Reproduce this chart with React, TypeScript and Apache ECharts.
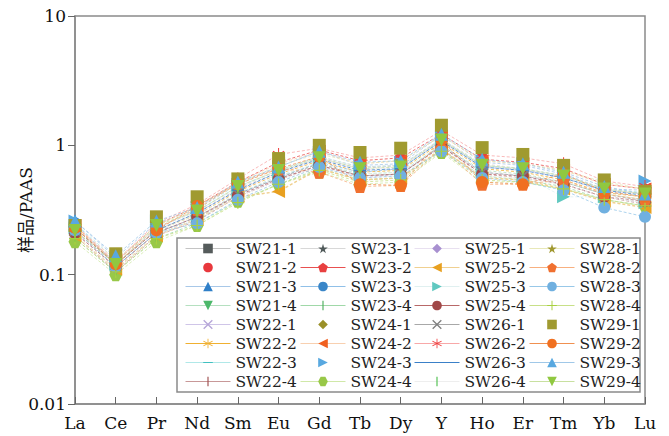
import React, { useEffect, useRef } from "react";
import * as echarts from "echarts";

const elements = ["La", "Ce", "Pr", "Nd", "Sm", "Eu", "Gd", "Tb", "Dy", "Y", "Ho", "Er", "Tm", "Yb", "Lu"];
const yTickLabels = ["0.01", "0.1", "1", "10"];

const SW21_1 = [0.22, 0.12, 0.22, 0.30, 0.46, 0.62, 0.80, 0.66, 0.70, 1.10, 0.70, 0.65, 0.56, 0.45, 0.42];
const SW21_2 = [0.24, 0.125, 0.24, 0.33, 0.50, 0.72, 0.88, 0.74, 0.78, 1.18, 0.80, 0.72, 0.62, 0.48, 0.44];
const SW21_3 = [0.26, 0.135, 0.25, 0.32, 0.50, 0.68, 0.90, 0.70, 0.72, 1.20, 0.74, 0.70, 0.60, 0.46, 0.45];
const SW21_4 = [0.20, 0.11, 0.20, 0.27, 0.42, 0.58, 0.72, 0.60, 0.62, 1.00, 0.64, 0.60, 0.52, 0.42, 0.38];
const SW22_1 = [0.21, 0.115, 0.21, 0.28, 0.40, 0.55, 0.70, 0.56, 0.60, 0.98, 0.62, 0.58, 0.50, 0.40, 0.36];
const SW22_2 = [0.23, 0.12, 0.22, 0.29, 0.44, 0.60, 0.76, 0.62, 0.64, 1.05, 0.66, 0.62, 0.54, 0.43, 0.40];
const SW22_3 = [0.25, 0.13, 0.23, 0.31, 0.48, 0.64, 0.82, 0.68, 0.70, 1.12, 0.70, 0.66, 0.58, 0.46, 0.43];
const SW22_4 = [0.20, 0.105, 0.20, 0.26, 0.40, 0.54, 0.70, 0.58, 0.60, 0.98, 0.60, 0.56, 0.50, 0.40, 0.35];
const SW23_1 = [0.22, 0.12, 0.23, 0.31, 0.47, 0.64, 0.82, 0.68, 0.70, 1.12, 0.72, 0.66, 0.58, 0.46, 0.42];
const SW23_2 = [0.23, 0.125, 0.24, 0.34, 0.52, 0.74, 0.92, 0.76, 0.80, 1.22, 0.78, 0.74, 0.66, 0.50, 0.46];
const SW23_3 = [0.25, 0.12, 0.22, 0.26, 0.42, 0.56, 0.74, 0.62, 0.66, 1.08, 0.68, 0.64, 0.56, 0.44, 0.40];
const SW23_4 = [0.19, 0.105, 0.19, 0.25, 0.37, 0.50, 0.66, 0.54, 0.56, 0.92, 0.58, 0.54, 0.48, 0.38, 0.34];
const SW24_1 = [0.21, 0.115, 0.21, 0.28, 0.42, 0.56, 0.70, 0.56, 0.58, 0.95, 0.58, 0.56, 0.50, 0.40, 0.36];
const SW24_2 = [0.24, 0.13, 0.24, 0.34, 0.52, 0.72, 0.90, 0.72, 0.76, 1.18, 0.76, 0.72, 0.64, 0.50, 0.46];
const SW24_3 = [0.26, 0.135, 0.26, 0.33, 0.50, 0.68, 0.88, 0.70, 0.74, 1.16, 0.76, 0.72, 0.64, 0.50, 0.53];
const SW24_4 = [0.18, 0.10, 0.18, 0.24, 0.37, 0.50, 0.62, 0.50, 0.52, 0.88, 0.52, 0.52, 0.46, 0.38, 0.34];
const SW25_1 = [0.22, 0.12, 0.22, 0.30, 0.45, 0.60, 0.78, 0.64, 0.68, 1.08, 0.68, 0.64, 0.56, 0.44, 0.40];
const SW25_2 = [0.20, 0.11, 0.20, 0.27, 0.40, 0.44, 0.66, 0.54, 0.56, 0.94, 0.56, 0.54, 0.46, 0.37, 0.33];
const SW25_3 = [0.23, 0.12, 0.22, 0.29, 0.43, 0.58, 0.74, 0.60, 0.62, 1.02, 0.62, 0.58, 0.40, 0.40, 0.36];
const SW25_4 = [0.21, 0.115, 0.21, 0.28, 0.41, 0.55, 0.70, 0.58, 0.60, 0.98, 0.60, 0.58, 0.50, 0.40, 0.37];
const SW26_1 = [0.22, 0.115, 0.21, 0.28, 0.42, 0.56, 0.72, 0.58, 0.60, 1.00, 0.62, 0.58, 0.52, 0.42, 0.37];
const SW26_2 = [0.24, 0.125, 0.25, 0.35, 0.55, 0.85, 0.95, 0.80, 0.84, 1.30, 0.84, 0.80, 0.72, 0.53, 0.48];
const SW26_3 = [0.23, 0.12, 0.22, 0.30, 0.45, 0.62, 0.78, 0.64, 0.66, 1.08, 0.68, 0.64, 0.56, 0.45, 0.41];
const SW26_4 = [0.20, 0.11, 0.20, 0.27, 0.40, 0.54, 0.68, 0.56, 0.58, 0.96, 0.58, 0.56, 0.50, 0.40, 0.36];
const SW28_1 = [0.23, 0.125, 0.24, 0.33, 0.50, 0.70, 0.86, 0.72, 0.76, 1.18, 0.76, 0.72, 0.64, 0.52, 0.46];
const SW28_2 = [0.24, 0.12, 0.23, 0.32, 0.52, 0.66, 0.62, 0.48, 0.49, 0.95, 0.50, 0.50, 0.54, 0.42, 0.38];
const SW28_3 = [0.22, 0.115, 0.21, 0.25, 0.38, 0.52, 0.68, 0.56, 0.58, 0.90, 0.56, 0.52, 0.45, 0.33, 0.28];
const SW28_4 = [0.19, 0.105, 0.19, 0.24, 0.36, 0.50, 0.64, 0.52, 0.54, 0.90, 0.54, 0.52, 0.46, 0.38, 0.34];
const SW29_1 = [0.24, 0.145, 0.28, 0.40, 0.55, 0.79, 1.00, 0.88, 0.95, 1.43, 0.96, 0.85, 0.70, 0.54, 0.44];
const SW29_2 = [0.23, 0.12, 0.22, 0.34, 0.50, 0.66, 0.82, 0.50, 0.49, 1.10, 0.52, 0.50, 0.60, 0.44, 0.40];
const SW29_3 = [0.26, 0.14, 0.26, 0.33, 0.52, 0.68, 0.90, 0.74, 0.76, 1.22, 0.78, 0.72, 0.62, 0.48, 0.42];
const SW29_4 = [0.22, 0.12, 0.24, 0.31, 0.48, 0.64, 0.80, 0.66, 0.68, 1.10, 0.70, 0.66, 0.58, 0.46, 0.42];

const STAR = "path://M50,0 L61,35 L98,35 L68,57 L79,91 L50,70 L21,91 L32,57 L2,35 L39,35 Z";
const PENT = "path://M50,0 L100,38 L81,100 L19,100 L0,38 Z";
const HEX = "path://M25,0 L75,0 L100,50 L75,100 L25,100 L0,50 Z";
const XMARK = "path://M0,10 L10,0 L50,40 L90,0 L100,10 L60,50 L100,90 L90,100 L50,60 L10,100 L0,90 L40,50 Z";
const ASTER = "path://M46,0 L54,0 L54,100 L46,100 Z M91.3,21.5 L95.3,28.5 L8.7,78.5 L4.7,71.5 Z M8.7,21.5 L95.3,71.5 L91.3,78.5 L4.7,28.5 Z";
const VBAR = "path://M0,50 L0.01,50 Z M100,50 L99.99,50 Z M44,0 L56,0 L56,100 L44,100 Z";
const HBAR = "path://M50,0 L50,0.01 Z M50,100 L50,99.99 Z M0,45 L100,45 L100,55 L0,55 Z";
const PLUS = "path://M45,0 L55,0 L55,45 L100,45 L100,55 L55,55 L55,100 L45,100 L45,55 L0,55 L0,45 L45,45 Z";
const LTRI = "path://M0,50 L100,0 L100,100 Z";
const RTRI = "path://M100,50 L0,0 L0,100 Z";
const DTRI = "path://M0,0 L100,0 L50,100 Z";

type Spec = [string, number[], string, string, string | null, number];
// name, data, symbol, marker colour, line colour (null = no line), symbol size
const specs: Spec[] = [
  ["SW21-1", SW21_1, "rect", "#555b5b", "#c4c4c4", 11],
  ["SW21-2", SW21_2, "circle", "#e8383d", null, 12],
  ["SW21-3", SW21_3, "triangle", "#2f7fc8", "#a8c8e8", 13],
  ["SW21-4", SW21_4, DTRI, "#4cb86a", "#b5e0c0", 13],
  ["SW22-1", SW22_1, XMARK, "#b6a6d8", "#cfc5e8", 12],
  ["SW22-2", SW22_2, ASTER, "#f0b030", "#f0b030", 12],
  ["SW22-3", SW22_3, HBAR, "#40c0c0", "#b0e8e8", 12],
  ["SW22-4", SW22_4, VBAR, "#a05050", "#c89898", 12],
  ["SW23-1", SW23_1, STAR, "#505a5a", "#d8d8d8", 12],
  ["SW23-2", SW23_2, PENT, "#e84040", "#e85050", 13],
  ["SW23-3", SW23_3, "circle", "#3a86c8", "#90c0e8", 12],
  ["SW23-4", SW23_4, VBAR, "#50b060", "#a0d8a8", 12],
  ["SW24-1", SW24_1, "diamond", "#9a9028", null, 13],
  ["SW24-2", SW24_2, LTRI, "#f06020", "#f8d0b0", 13],
  ["SW24-3", SW24_3, RTRI, "#58a8e0", null, 13],
  ["SW24-4", SW24_4, HEX, "#98c848", "#d0e8a8", 13],
  ["SW25-1", SW25_1, "diamond", "#a890d0", "#e8e0f0", 13],
  ["SW25-2", SW25_2, LTRI, "#e8a020", "#f0d090", 13],
  ["SW25-3", SW25_3, RTRI, "#60c8c0", "#e0f0f0", 13],
  ["SW25-4", SW25_4, "circle", "#a04848", "#b86868", 12],
  ["SW26-1", SW26_1, XMARK, "#808080", "#a8a8a8", 12],
  ["SW26-2", SW26_2, ASTER, "#f04040", "#f8a8a8", 13],
  ["SW26-3", SW26_3, HBAR, "#3a80c8", "#3a80c8", 12],
  ["SW26-4", SW26_4, VBAR, "#50c050", "#eeeeee", 12],
  ["SW28-1", SW28_1, STAR, "#a09830", "#e8e8b8", 13],
  ["SW28-2", SW28_2, PENT, "#f07030", "#f8b080", 13],
  ["SW28-3", SW28_3, "circle", "#70b0e0", "#98c8e8", 12],
  ["SW28-4", SW28_4, PLUS, "#a8d040", "#c8e088", 12],
  ["SW29-1", SW29_1, "rect", "#a09a30", null, 13],
  ["SW29-2", SW29_2, "circle", "#f07020", "#f09050", 12],
  ["SW29-3", SW29_3, "triangle", "#58a8e0", "#a0c8e8", 13],
  ["SW29-4", SW29_4, DTRI, "#90c840", "#c8e0a0", 13],
];

const SERIF = "DejaVu Serif";
const AXIS = "#8a8a8a";

export default function App() {
  const ref = useRef<HTMLDivElement>(null);
  useEffect(() => {
    if (!ref.current) return;
    const chart = echarts.init(ref.current, undefined, { renderer: "svg" });
    const series = specs.map(([name, data, symbol, mc, lc, size]) => ({
      name,
      type: "line",
      data,
      symbol,
      symbolSize: size,
      symbolKeepAspect: true,
      itemStyle: { color: mc },
      lineStyle: lc
        ? { color: lc, width: name === "SW25-2" ? 1.5 : 0.8, type: [3, 2] as any }
        : { color: "#ffffff", width: 0, opacity: 0 },
      z: 2,
    }));
    const cols = [185, 300, 414, 529];
    const legends = cols.map((left, i) => ({
      show: true,
      orient: "vertical",
      left,
      top: 240,
      itemGap: 2,
      itemWidth: 45,
      itemHeight: 12,
      padding: 0,
      data: specs.slice(i * 8, i * 8 + 8).map((s) => s[0]),
      textStyle: { fontSize: 15.5, fontFamily: SERIF, color: "#222", lineHeight: 17 },
      lineStyle: { type: "solid", width: 1 },
      selectedMode: false,
    }));
    chart.setOption({
      animation: false,
      grid: { left: 75, right: 24, top: 16, bottom: 32, show: true, borderColor: AXIS, borderWidth: 1.5 },
      legend: legends,
      graphic: [
        {
          type: "rect",
          shape: { x: 177, y: 238, width: 463, height: 154 },
          style: { fill: "none", stroke: AXIS, lineWidth: 1.5 },
          z: 1,
        },
      ],
      xAxis: {
        type: "category",
        data: elements,
        boundaryGap: false,
        axisLine: { lineStyle: { color: AXIS, width: 1.5 } },
        axisTick: { inside: true, length: 7, lineStyle: { color: "#666" } },
        axisLabel: { fontSize: 17, fontFamily: SERIF, color: "#111", margin: 10 },
        splitLine: { show: false },
      },
      yAxis: {
        type: "log",
        logBase: 10,
        min: 0.01,
        max: 10,
        name: "样品/PAAS",
        nameLocation: "middle",
        nameGap: 41,
        nameMoveOverlap: false,
        nameTextStyle: { fontSize: 17, fontFamily: "DejaVu Serif, Noto Sans CJK SC", color: "#111" },
        axisLine: { show: true, lineStyle: { color: AXIS, width: 1.5 } },
        axisTick: { show: true, length: 7, lineStyle: { color: "#666" } },
        axisLabel: {
          fontSize: 17,
          fontFamily: SERIF,
          color: "#111",
          margin: 9,
          formatter: (v: number) => {
            const idx = Math.round(Math.log10(v)) + 2;
            return yTickLabels[idx] ?? String(v);
          },
        },
        splitLine: { show: false },
        minorTick: { show: false },
      },
      series,
    });
    return () => chart.dispose();
  }, []);
  return <div ref={ref} style={{ width: 669, height: 436, marginLeft: -8, marginTop: -8 }} />;
}
